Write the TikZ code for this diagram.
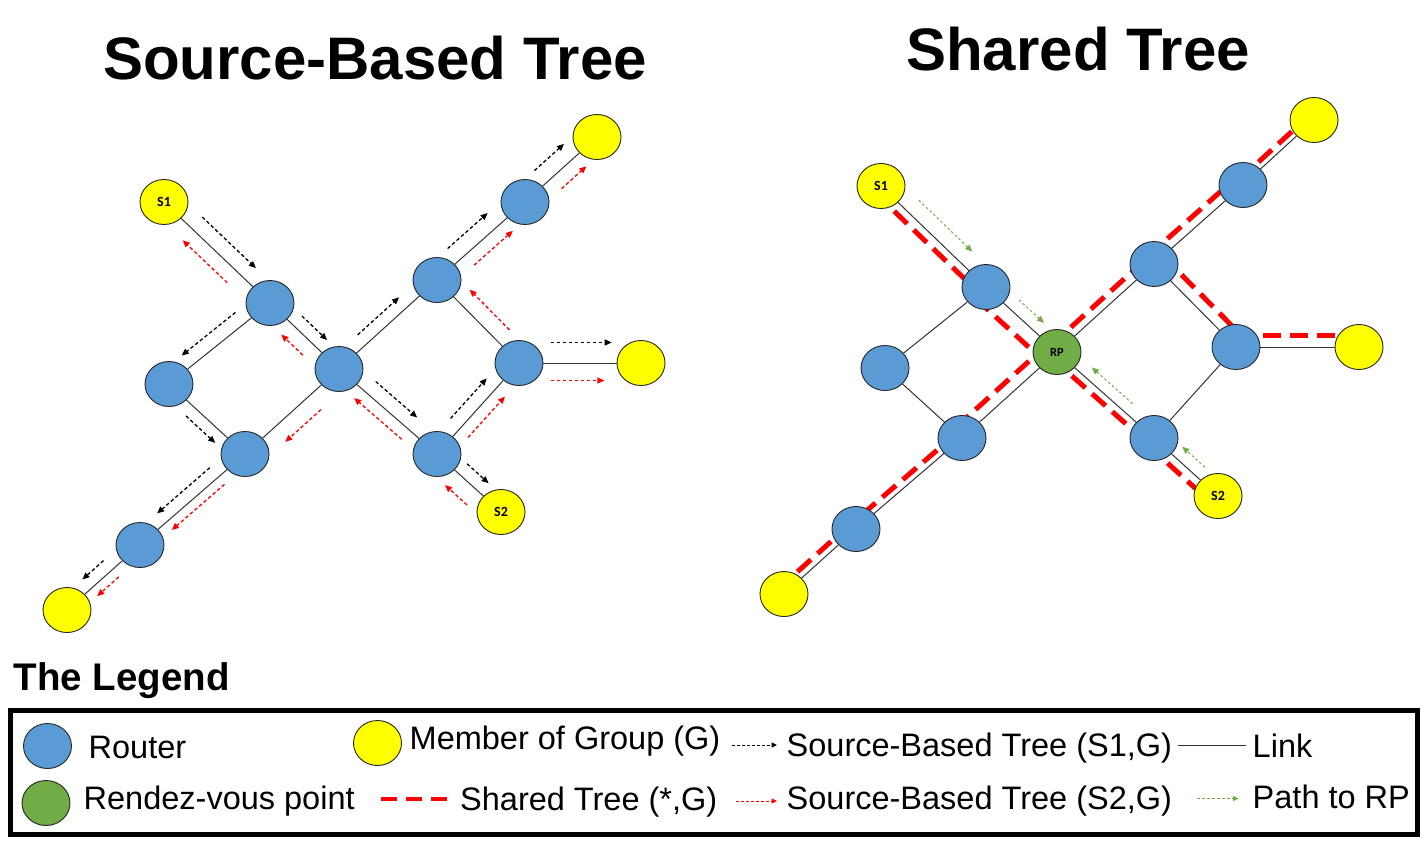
\documentclass[tikz,border=0pt]{standalone}
\usepackage{fontspec}
\setmainfont{Liberation Sans}
\newfontfamily\calibri{Carlito}
\usetikzlibrary{shapes.geometric,arrows.meta,calc,backgrounds}
\definecolor{rblue}{HTML}{5B9BD5}
\definecolor{ylw}{HTML}{FFFF00}
\definecolor{rpgreen}{HTML}{70AD47}
\definecolor{sred}{HTML}{FF0000}
\definecolor{linkgray}{HTML}{333333}
\definecolor{pathgreen}{HTML}{70AD47}
\tikzset{
 nodebase/.style={ellipse, draw=black!85, line width=0.9pt, minimum width=48pt, minimum height=45pt, inner sep=0pt, font=\calibri\bfseries\fontsize{14}{16}\selectfont},
 router/.style={nodebase, fill=rblue},
 member/.style={nodebase, fill=ylw},
 rpnode/.style={nodebase, fill=rpgreen, font=\calibri\bfseries\fontsize{12.5}{14}\selectfont},
 link/.style={draw=linkgray, line width=1pt},
 shared/.style={draw=sred, line width=5pt, dash pattern=on 18pt off 9pt},
 tipA/.style={-{Triangle[length=7pt,width=6pt]}},
 tipB/.style={-{Triangle[length=5.5pt,width=5pt]}},
 s1flow/.style={tipA, draw=black, line width=1.3pt, dash pattern=on 3.5pt off 2.5pt},
 s2flow/.style={tipA, draw=sred, line width=1.3pt, dash pattern=on 3.5pt off 2.5pt},
 rpflow/.style={tipA, draw=pathgreen, line width=1pt, dash pattern=on 2.5pt off 2.5pt},
 ttl/.style={font=\bfseries\fontsize{60}{70}\selectfont, inner sep=0pt, anchor=base},
 lgtext/.style={font=\fontsize{32.5}{39}\selectfont, inner sep=0pt, anchor=base west},
}
% flow arrow parallel to the link from #2 to #3
\newcommand\fl[7]{\draw[#1] ($(#2)!#4!(#3)!#6pt!#7:(#3)$) -- ($(#2)!#5!(#3)!#6pt!#7:(#3)$);}
% shared-tree segment parallel to link #1--#2
\newcommand\sh[5]{\draw[shared] ($(#1)!#3pt!#4:(#2)$) -- ($(#2)!#3pt!#5:(#1)$);}
\begin{document}
\begin{tikzpicture}[x=1pt,y=-1pt]
\useasboundingbox (0,0) rectangle (1426,844);

% titles
\node[ttl] (t1) at (375,79) {Source-Based Tree};
\node[ttl] (t2) at (1078,70) {Shared Tree};

% ---------- left: source-based tree ----------
\node[member] (S1) at (164,202) {S1};
\node[router] (R1) at (270,303) {};
\node[router] (R2) at (169,384) {};
\node[router] (R3) at (339,369) {};
\node[router] (R4) at (245,454) {};
\node[router] (R5) at (140,545) {};
\node[member] (Y1) at (67,610) {};
\node[router] (R6) at (437,280) {};
\node[router] (R7) at (525,202) {};
\node[member] (Y2) at (597,137) {};
\node[router] (R8) at (519,363) {};
\node[member] (Y3) at (641,363) {};
\node[router] (R9) at (437,454) {};
\node[member] (S2) at (501,512) {S2};

\foreach \a/\b in {S1/R1,R1/R2,R1/R3,R2/R4,R4/R3,R4/R5,R5/Y1,R3/R6,R3/R9,R6/R7,R7/Y2,R6/R8,R8/Y3,R9/R8,R9/S2}
  \draw[link] (\a) -- (\b);

% (S1,G) flows
\fl{s1flow}{S1}{R1}{.26}{.766}{15.5}{90}
\fl{s1flow}{R1}{R2}{.254}{.786}{14.3}{-90}
\fl{s1flow}{R2}{R4}{.33}{.715}{12}{-90}
\fl{s1flow}{R1}{R3}{.336}{.70}{12.7}{90}
\fl{s1flow}{R3}{R6}{.278}{.70}{12.7}{90}
\fl{s1flow}{R6}{R7}{.245}{.70}{16.5}{90}
\fl{s1flow}{R7}{Y2}{.29}{.70}{17}{90}
\fl{s1flow}{R3}{R9}{.277}{.70}{14.6}{90}
\fl{s1flow}{R9}{R8}{.29}{.73}{13.7}{90}
\fl{s1flow}{R8}{Y3}{.26}{.76}{20.5}{90}
\fl{s1flow}{R9}{S2}{.335}{.67}{13}{90}
\fl{s1flow}{R4}{R5}{.256}{.758}{12.7}{-90}
\fl{s1flow}{R5}{Y1}{.385}{.675}{12.6}{-90}
% (S2,G) flows
\fl{s2flow}{R1}{S1}{.307}{.727}{14.8}{90}
\fl{s2flow}{R3}{R1}{.375}{.685}{15}{90}
\fl{s2flow}{R3}{R4}{.32}{.70}{18}{90}
\fl{s2flow}{R9}{R3}{.28}{.765}{12}{90}
\fl{s2flow}{R8}{R6}{.26}{.745}{16.5}{-90}
\fl{s2flow}{R6}{R7}{.32}{.76}{13.5}{-90}
\fl{s2flow}{R7}{Y2}{.372}{.716}{14.6}{-90}
\fl{s2flow}{R9}{R8}{.27}{.72}{12}{-90}
\fl{s2flow}{R8}{Y3}{.26}{.70}{17.5}{-90}
\fl{s2flow}{S2}{R9}{.346}{.69}{17.6}{90}
\fl{s2flow}{R4}{R5}{.255}{.756}{9.5}{90}
\fl{s2flow}{R5}{Y1}{.38}{.675}{9.7}{90}

% ---------- right: shared tree ----------
\node[member] (T1) at (881,186) {S1};
\node[router] (Ra) at (986,287) {};
\node[router] (Rb) at (885,368) {};
\node[rpnode] (RP) at (1057,352) {RP};
\node[router] (Rc) at (962,438) {};
\node[router] (Rd) at (856,529) {};
\node[member] (Yb) at (784,594) {};
\node[router] (Re) at (1154,264) {};
\node[router] (Rf) at (1243,185) {};
\node[member] (Yt) at (1314,120) {};
\node[router] (Rg) at (1236,347) {};
\node[member] (Yr) at (1359,347) {};
\node[router] (Rh) at (1154,438) {};
\node[member] (T2) at (1218,496) {S2};

\foreach \a/\b in {T1/Ra,Ra/Rb,Ra/RP,Rb/Rc,Rc/RP,Rc/Rd,Rd/Yb,RP/Re,RP/Rh,Re/Rf,Rf/Yt,Re/Rg,Rg/Yr,Rh/Rg,Rh/T2}
  \draw[link] (\a) -- (\b);

\begin{scope}[on background layer]
  \fill[white] (0,0) rectangle (1426,844);
  \sh{T1}{Ra}{9}{-90}{90}
  \sh{Ra}{RP}{15.5}{-90}{90}
  \sh{RP}{Re}{9}{90}{-90}
  \sh{Re}{Rf}{10}{90}{-90}
  \sh{Rf}{Yt}{6.5}{90}{-90}
  \sh{RP}{Rc}{12}{-90}{90}
  \sh{Rc}{Rd}{7}{-90}{90}
  \sh{Rd}{Yb}{7.5}{-90}{90}
  \sh{Re}{Rg}{12}{90}{-90}
  \sh{Rg}{Yr}{11.5}{90}{-90}
  \sh{RP}{Rh}{8}{-90}{90}
  \sh{Rh}{T2}{9.5}{-90}{90}
\end{scope}

% paths to RP
\fl{rpflow}{T1}{Ra}{.255}{.764}{16}{90}
\fl{rpflow}{Ra}{RP}{.344}{.696}{12.7}{90}
\fl{rpflow}{Rh}{RP}{.30}{.72}{11.5}{-90}
\fl{rpflow}{T2}{Rh}{.337}{.69}{12.5}{-90}

% ---------- legend ----------
\node[font=\bfseries\fontsize{38.5}{45}\selectfont, anchor=base west, inner sep=0pt] (lgtitle) at (13.5,690) {The Legend};
\draw[line width=5pt] (10.5,710.5) rectangle (1417.5,834.5);

\node[router] (lgR) at (47.5,746) {};
\node[rpnode] (lgG) at (46,803) {};
\node[member] (lgY) at (377.5,743) {};
\node[lgtext] (txR) at (88.5,758) {Router};
\node[lgtext] (txG) at (83.5,809) {Rendez-vous point};
\node[lgtext] (txY) at (409.5,749.5) {Member of Group (G)};
\node[lgtext] (txSh) at (460,810) {Shared Tree (*,G)};
\node[lgtext] (txS1) at (786.5,756) {Source-Based Tree (S1,G)};
\node[lgtext] (txS2) at (786.5,809) {Source-Based Tree (S2,G)};
\node[lgtext] (txL) at (1252.5,757) {Link};
\node[lgtext] (txP) at (1252.5,808) {Path to RP};

\coordinate (shA) at (381,799);  \coordinate (shB) at (447,799);
\coordinate (s1A) at (732,745);  \coordinate (s1B) at (777,745);
\coordinate (s2A) at (736,801);  \coordinate (s2B) at (777,801);
\coordinate (lkA) at (1178,745); \coordinate (lkB) at (1246,745);
\coordinate (rpA) at (1197,798.5); \coordinate (rpB) at (1238.5,798.5);
\draw[draw=sred, line width=4pt, dash pattern=on 16pt off 9pt] (shA) -- (shB);
\draw[s1flow, tipB, line width=1pt, dash pattern=on 3pt off 2pt] (s1A) -- (s1B);
\draw[s2flow, tipB, line width=1pt, dash pattern=on 3pt off 2pt] (s2A) -- (s2B);
\draw[link] (lkA) -- (lkB);
\draw[rpflow, tipB] (rpA) -- (rpB);
\end{tikzpicture}
\end{document}
